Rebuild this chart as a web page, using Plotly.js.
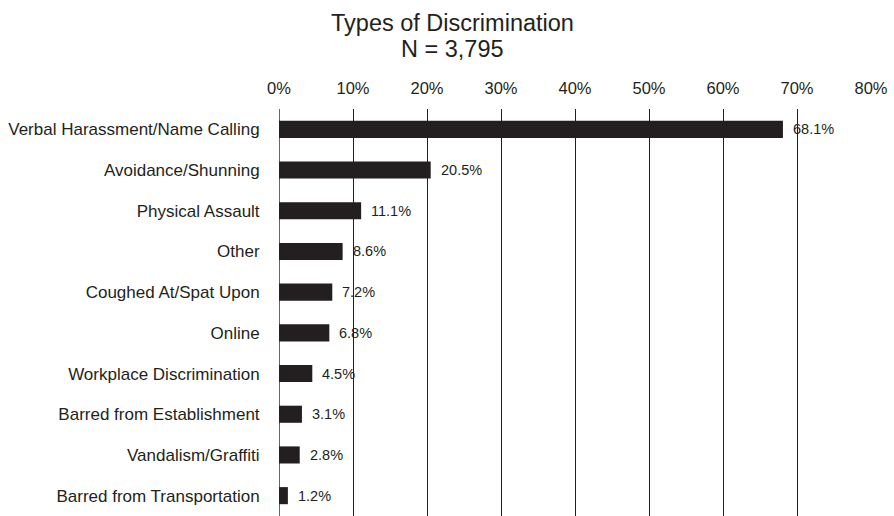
<!DOCTYPE html>
<html>
<head>
<meta charset="utf-8">
<script src="https://cdn.plot.ly/plotly-3.0.1.min.js"></script>
<style>html,body{margin:0;padding:0;background:#fff;}#chart{width:894px;height:516px;}</style>
</head>
<body>
<div id="chart"></div>
<script>
const categories = [
  "Verbal Harassment/Name Calling",
  "Avoidance/Shunning",
  "Physical Assault",
  "Other",
  "Coughed At/Spat Upon",
  "Online",
  "Workplace Discrimination",
  "Barred from Establishment",
  "Vandalism/Graffiti",
  "Barred from Transportation"
];
const values = [68.1, 20.5, 11.1, 8.6, 7.2, 6.8, 4.5, 3.1, 2.8, 1.2];
const tickVals = [0, 10, 20, 30, 40, 50, 60, 70, 80];
const tickLabels = ["0%", "10%", "20%", "30%", "40%", "50%", "60%", "70%", "80%"];
const titleLines = ["Types of Discrimination", "N = 3,795"];

const dark = "#231f20";
const fam = "Liberation Sans, Arial, sans-serif";
const trace = {
  type: "bar",
  orientation: "h",
  x: values,
  y: categories,
  width: 0.42,
  marker: {color: dark},
  hoverinfo: "skip"
};

const annotations = values.map((v, i) => ({
  x: v, y: categories[i], xref: "x", yref: "y",
  text: v.toFixed(1) + "%",
  showarrow: false, xanchor: "left", xshift: 8,
  font: {family: fam, size: 14.5, color: dark}
}));
titleLines.forEach((t, i) => annotations.push({
  x: 0.2926, y: [1.2113, 1.1475][i], xref: "paper", yref: "paper",
  text: t, showarrow: false, xanchor: "center", yanchor: "middle",
  font: {family: fam, size: 23.5, color: dark}
}));

const layout = {
  width: 894, height: 516,
  margin: {l: 279, r: 23, t: 109, b: 0},
  paper_bgcolor: "#fff", plot_bgcolor: "#fff",
  font: {family: fam, color: dark},
  showlegend: false,
  xaxis: {
    side: "top",
    range: [0, 80],
    tickvals: tickVals, ticktext: tickLabels,
    tickfont: {size: 16.5, color: dark},
    showgrid: true, gridcolor: dark, gridwidth: 1,
    zeroline: true, zerolinecolor: "#666", zerolinewidth: 1,
    ticks: "outside", ticklen: 7, tickcolor: "rgba(0,0,0,0)",
    showline: false, fixedrange: true
  },
  yaxis: {
    autorange: "reversed",
    type: "category",
    tickfont: {size: 17, color: dark},
    ticks: "outside", ticklen: 15, tickcolor: "rgba(0,0,0,0)",
    showgrid: false, zeroline: false, showline: false, fixedrange: true
  },
  annotations: annotations
};

Plotly.newPlot("chart", [trace], layout, {displayModeBar: false, staticPlot: true});
</script>
</body>
</html>
